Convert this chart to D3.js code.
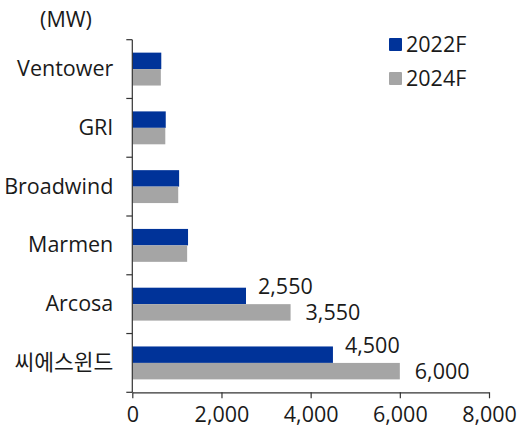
<!DOCTYPE html>
<html>
<head>
<meta charset="utf-8">
<script src="https://cdn.jsdelivr.net/npm/d3@7"></script>
<style>
	html, body { margin: 0; padding: 0; background: #fff; }
	svg text { font-family: "Open Sans", "Noto Sans CJK KR", sans-serif; font-weight: 400; fill: #1a1a1a; }
</style>
</head>
<body>
<svg id="chart" width="518" height="432"></svg>
<script>
// Data
const categories = ["Ventower", "GRI", "Broadwind", "Marmen", "Arcosa", "씨에스윈드"];
const seriesNames = ["2022F", "2024F"];
const values2022 = [650, 750, 1050, 1250, 2550, 4500];
const values2024 = [640, 740, 1030, 1230, 3550, 6000];
const labeled2022 = [false, false, false, false, true, true];
const labeled2024 = [false, false, false, false, true, true];
const xTicks = [0, 2000, 4000, 6000, 8000];
const unitLabel = "(MW)";

const colors = { "2022F": "#003399", "2024F": "#a5a5a5" };
const fontSize = "21.5px";

const margin = { top: 39.7, left: 132.3, right: 29, bottom: 39.7 };
const width = 518 - margin.left - margin.right;
const height = 432 - margin.top - margin.bottom;

const svg = d3.select("#chart");
const g = svg.append("g").attr("transform", `translate(${margin.left},${margin.top})`);

const xScale = d3.scaleLinear().domain([0, 8000]).range([0, width]);
const yScale = d3.scaleBand().domain(categories).range([0, height]).paddingInner(0.44).paddingOuter(0.22);
const subScale = d3.scaleBand().domain(seriesNames).range([0, yScale.bandwidth()]);

const rows = categories.map((c, i) => ({
	key: c,
	values: [
		{ key: "2022F", value: values2022[i], labeled: labeled2022[i] },
		{ key: "2024F", value: values2024[i], labeled: labeled2024[i] }
	]
}));

// Bars
const groups = g.selectAll(".cat")
	.data(rows)
	.enter()
	.append("g")
	.attr("class", "cat")
	.attr("transform", d => `translate(0,${yScale(d.key)})`);

groups.selectAll("rect")
	.data(d => d.values)
	.enter()
	.append("rect")
	.attr("x", 0)
	.attr("y", d => subScale(d.key))
	.attr("width", d => xScale(d.value))
	.attr("height", subScale.bandwidth())
	.attr("fill", d => colors[d.key]);

// Value labels
groups.selectAll(".val")
	.data(d => d.values.filter(v => v.labeled))
	.enter()
	.append("text")
	.attr("class", "val")
	.attr("x", d => xScale(d.value) + (d.key === "2022F" ? 12 : 15))
	.attr("y", d => subScale(d.key) + subScale.bandwidth() / 2 + (d.key === "2022F" ? -9 : 0))
	.attr("dy", "0.35em")
	.style("font-size", fontSize)
	.text(d => d3.format(",")(d.value));

// Y axis
const yAxis = g.append("g")
	.call(d3.axisLeft(yScale).tickSize(0).tickPadding(19));
yAxis.select(".domain").remove();
yAxis.selectAll("text").style("font-size", fontSize).attr("fill", "#1a1a1a");

// Y axis line with boundary ticks
const bounds = d3.range(categories.length + 1).map(i => i * height / categories.length);
g.append("line")
	.attr("x1", 0).attr("x2", 0)
	.attr("y1", 0).attr("y2", height)
	.attr("stroke", "#333").attr("stroke-width", 1.2);
g.selectAll(".ytick")
	.data(bounds)
	.enter()
	.append("line")
	.attr("x1", -6).attr("x2", 0)
	.attr("y1", d => d).attr("y2", d => d)
	.attr("stroke", "#333").attr("stroke-width", 1.2);

// X axis
const xAxis = g.append("g")
	.attr("transform", `translate(0,${height})`)
	.call(d3.axisBottom(xScale).tickValues(xTicks).tickFormat(d3.format(",")).tickSizeOuter(0).tickSizeInner(6).tickPadding(8));
xAxis.select(".domain").attr("stroke", "#333").attr("stroke-width", 1.2);
xAxis.selectAll(".tick line").attr("stroke", "#333").attr("stroke-width", 1.2);
xAxis.selectAll("text").style("font-size", fontSize).attr("fill", "#1a1a1a");

// Unit label
svg.append("text")
	.attr("x", 66)
	.attr("y", 27)
	.attr("text-anchor", "middle")
	.style("font-size", fontSize)
	.text(unitLabel);

// Legend
const legend = svg.append("g").attr("transform", "translate(389,38)");
const items = legend.selectAll("g")
	.data(seriesNames)
	.enter()
	.append("g")
	.attr("transform", (d, i) => `translate(0,${i * 34})`);
items.append("rect")
	.attr("width", 13).attr("height", 13)
	.attr("rx", 1)
	.attr("fill", d => colors[d]);
items.append("text")
	.attr("x", 17)
	.attr("y", 6.5)
	.attr("dy", "0.35em")
	.style("font-size", fontSize)
	.text(d => d);
</script>
</body>
</html>
